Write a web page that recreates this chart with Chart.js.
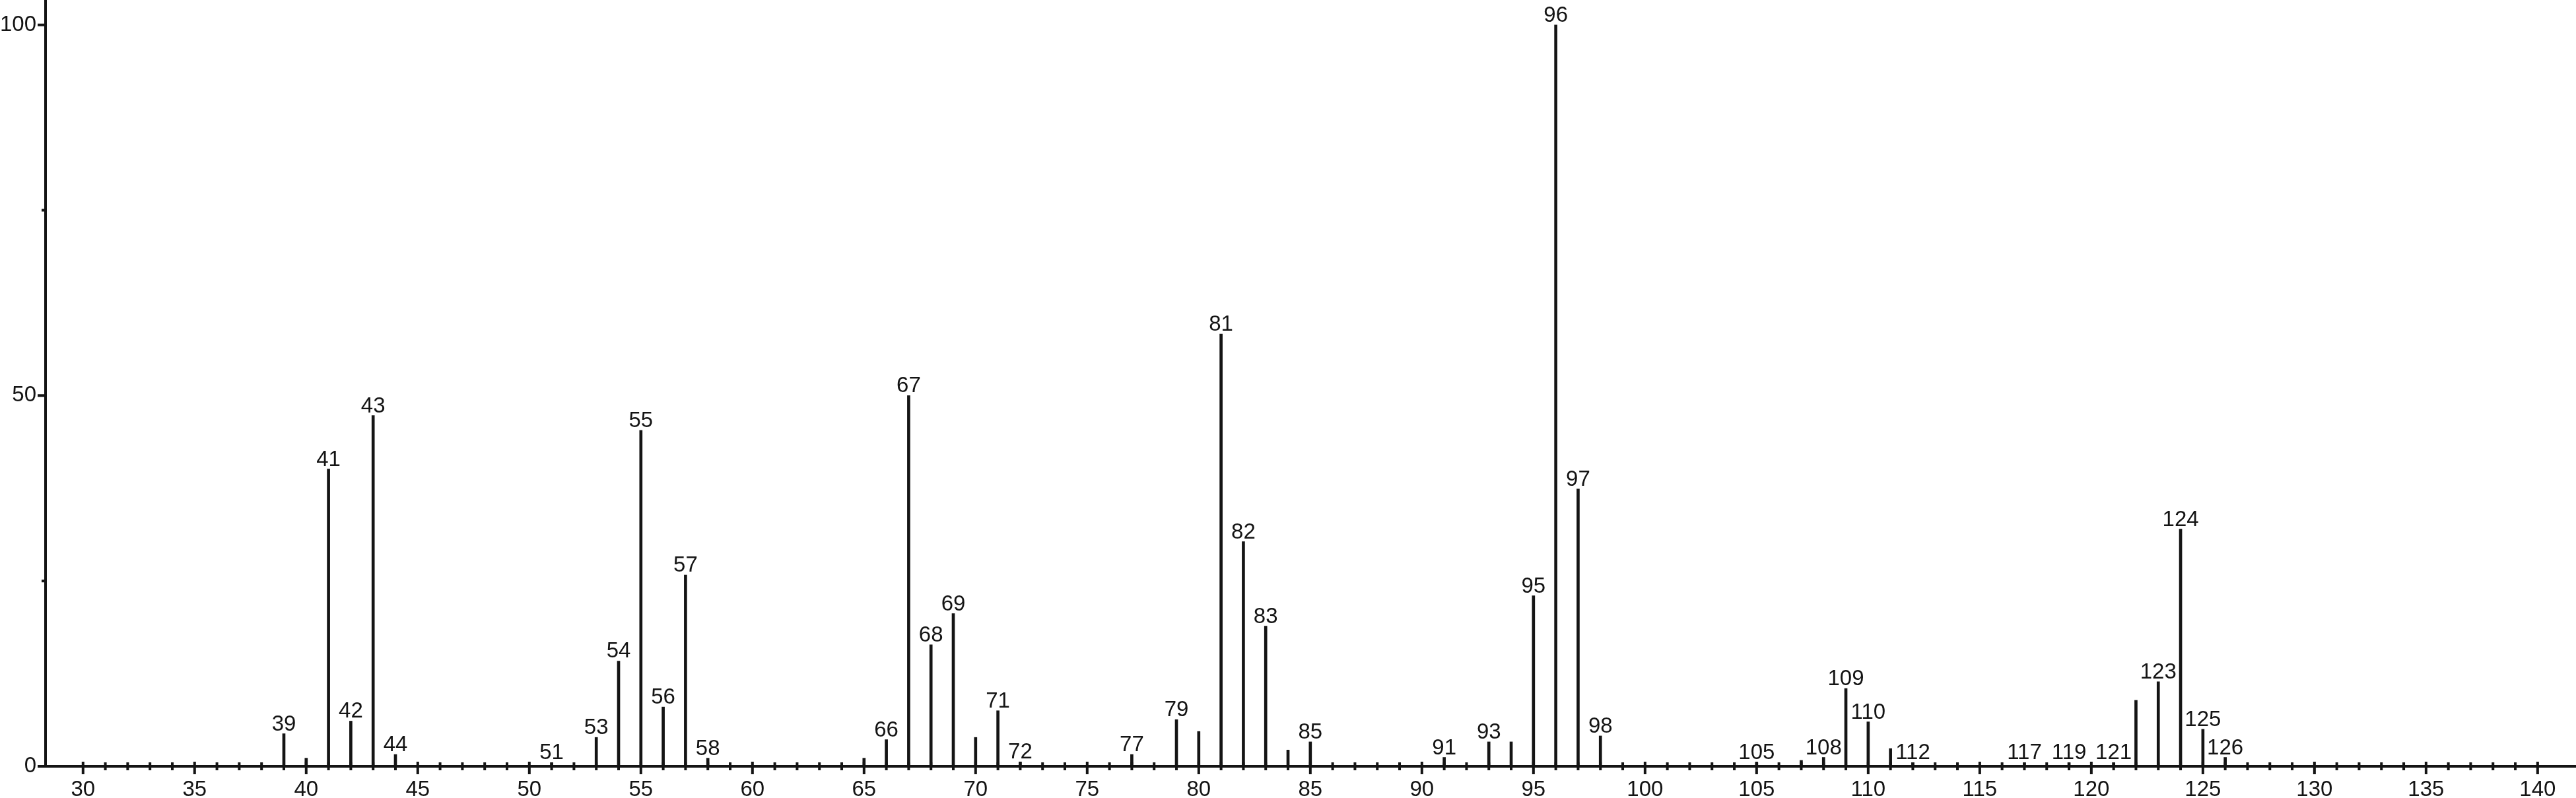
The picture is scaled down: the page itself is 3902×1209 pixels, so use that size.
<!DOCTYPE html>
<html>
<head>
<meta charset="utf-8">
<script src="https://cdn.jsdelivr.net/npm/chart.js@4.4.1/dist/chart.umd.min.js"></script>
<style>
  html, body { margin: 0; padding: 0; background: #fff; }
  #wrap { width: 3902px; height: 1209px; position: relative; }
</style>
</head>
<body>
<div id="wrap"><canvas id="ms"></canvas></div>
<script>
// m/z пиков и их относительная интенсивность (%)
const mzValues = [39, 40, 41, 42, 43, 44, 51, 53, 54, 55, 56, 57, 58,
  65, 66, 67, 68, 69, 70, 71, 72, 77, 79, 80, 81, 82, 83, 84, 85,
  91, 93, 94, 95, 96, 97, 98, 105, 107, 108, 109, 110, 111, 112,
  117, 119, 121, 122, 123, 124, 125, 126];
const intensities = [4.4, 1.1, 40.1, 6.1, 47.3, 1.6, 0.5, 3.9, 14.2, 45.3, 8.0, 25.8, 1.1,
  1.1, 3.6, 50.0, 16.4, 20.6, 3.9, 7.5, 0.6, 1.6, 6.3, 4.7, 58.3, 30.3, 18.9, 2.2, 3.3,
  1.2, 3.3, 3.3, 23.0, 100, 37.4, 4.1, 0.5, 0.8, 1.2, 10.5, 6.0, 2.4, 0.5,
  0.5, 0.5, 0.5, 8.9, 11.4, 32.0, 5.0, 1.2];

// какие пики подписаны
const labeledMz = [39, 41, 42, 43, 44, 51, 53, 54, 55, 56, 57, 58,
  66, 67, 68, 69, 71, 72, 77, 79, 81, 82, 83, 85,
  91, 93, 95, 96, 97, 98, 105, 108, 109, 110, 112,
  117, 119, 121, 123, 124, 125, 126];

// деления осей
const yTickValues = [0, 25, 50, 75, 100];
const yTickLabels = ["0", "", "50", "", "100"];
const xTickFirst = 30;
const xTickLast = 140;

const INK = "#141414";
Chart.defaults.font.family = "'Liberation Sans', Arial, Helvetica, sans-serif";
Chart.defaults.font.size = 33;
Chart.defaults.color = INK;

// свои засечки: длинные на кратных 5, короткие поперёк оси
const tickMarks = {
  id: "tickMarks",
  afterDraw(chart) {
    const { ctx, scales: { x, y } } = chart;
    const base = y.getPixelForValue(0);
    const left = x.left;
    ctx.save();
    ctx.strokeStyle = INK;
    ctx.lineWidth = 4;
    ctx.beginPath();
    x.ticks.forEach(t => {
      const px = x.getPixelForValue(t.value);
      if (t.value % 5 === 0) {
        ctx.moveTo(px, base - 7);
        ctx.lineTo(px, base + 12);
      } else {
        ctx.moveTo(px, base - 6);
        ctx.lineTo(px, base + 6);
      }
    });
    yTickValues.forEach(v => {
      const py = y.getPixelForValue(v);
      const len = v % 50 === 0 ? 12 : 6;
      ctx.moveTo(left - len, py);
      ctx.lineTo(left, py);
    });
    ctx.stroke();
    ctx.restore();
  }
};

// подписи m/z над пиками
const peakLabels = {
  id: "peakLabels",
  afterDatasetsDraw(chart) {
    const { ctx } = chart;
    const meta = chart.getDatasetMeta(0);
    ctx.save();
    ctx.fillStyle = INK;
    ctx.font = "33px 'Liberation Sans', Arial, sans-serif";
    ctx.textAlign = "center";
    ctx.textBaseline = "alphabetic";
    meta.data.forEach((bar, i) => {
      const mz = mzValues[i];
      if (!labeledMz.includes(mz)) return;
      ctx.fillText(String(mz), bar.x, bar.y - 5);
    });
    ctx.restore();
  }
};

const ctx = document.getElementById("ms").getContext("2d");
new Chart(ctx, {
  type: "bar",
  data: {
    datasets: [{
      data: mzValues.map((m, i) => ({ x: m, y: intensities[i] })),
      backgroundColor: INK,
      borderWidth: 0,
      barThickness: 4,
      grouped: false
    }]
  },
  options: {
    responsive: true,
    maintainAspectRatio: false,
    animation: false,
    devicePixelRatio: 1,
    layout: { padding: 0 },
    plugins: {
      legend: { display: false },
      tooltip: { enabled: false }
    },
    scales: {
      x: {
        type: "linear",
        min: 28.32,
        max: 141.72,
        offset: false,
        afterBuildTicks: s => {
          const arr = [];
          for (let v = xTickFirst; v <= xTickLast; v++) arr.push({ value: v });
          s.ticks = arr;
        },
        afterFit: s => { s.height = 48; s.paddingLeft = 0; s.paddingRight = 0; },
        ticks: {
          autoSkip: false,
          maxRotation: 0,
          minRotation: 0,
          padding: 4,
          callback: v => (v % 5 === 0 ? String(v) : "")
        },
        grid: { display: true, drawOnChartArea: false, tickLength: 12, tickColor: "transparent", offset: false },
        border: { display: true, color: INK, width: 4 }
      },
      y: {
        min: 0,
        max: 103.36,
        afterBuildTicks: s => { s.ticks = yTickValues.map(v => ({ value: v })); },
        // ось тянется до самого верха, без отступа под подпись
        afterFit: s => { s.width = 69; s.paddingTop = 0; s.paddingBottom = 0; },
        ticks: {
          padding: 2,
          callback: v => yTickLabels[yTickValues.indexOf(v)] ?? ""
        },
        grid: { display: true, drawOnChartArea: false, tickLength: 12, tickColor: "transparent" },
        border: { display: true, color: INK, width: 4 }
      }
    }
  },
  plugins: [tickMarks, peakLabels]
});
</script>
</body>
</html>
